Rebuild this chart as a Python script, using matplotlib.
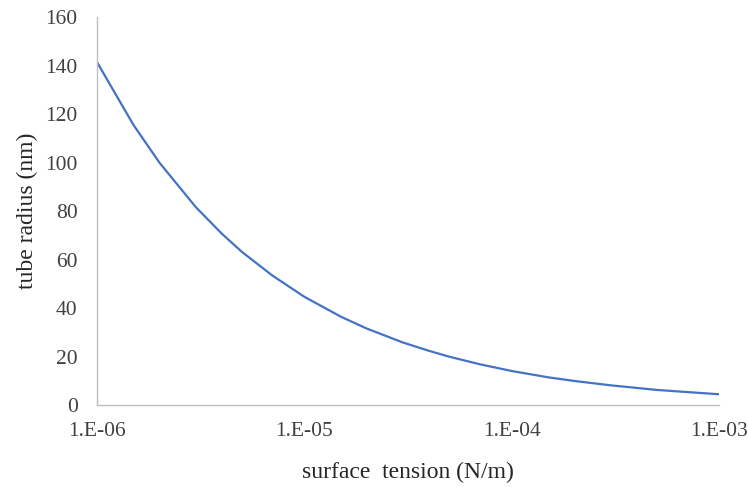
import matplotlib
matplotlib.use("Agg")
import matplotlib.pyplot as plt
from matplotlib.ticker import FixedLocator, FixedFormatter, NullLocator

plt.rcParams['font.family'] = ['Liberation Serif', 'DejaVu Serif']

# surface tension (N/m) and tube radius (nm)
tension = [1e-6, 1.5e-6, 2e-6, 3e-6, 4e-6, 5e-6, 7e-6, 1e-5, 1.5e-5, 2e-5,
           3e-5, 4e-5, 5e-5, 7e-5, 1e-4, 1.5e-4, 2e-4, 3e-4, 5e-4, 1e-3]
radius = [141.4, 115.5, 100.0, 81.6, 70.7, 63.2, 53.5, 44.7, 36.5, 31.6,
          25.8, 22.4, 20.0, 16.9, 14.1, 11.5, 10.0, 8.2, 6.3, 4.5]

xticks = [1e-6, 1e-5, 1e-4, 1e-3]
xlabels = ["1.E-06", "1.E-05", "1.E-04", "1.E-03"]
yticks = [0, 20, 40, 60, 80, 100, 120, 140, 160]

fig = plt.figure(figsize=(7.48, 4.87), dpi=100)
ax = fig.add_axes([0.1297, 0.168, 0.8313, 0.797])

ax.plot(tension, radius, color="#4472C4", linewidth=1.6)

ax.set_xscale("log")
ax.set_xlim(1e-6, 1e-3)
ax.set_ylim(0, 160)
ax.xaxis.set_major_locator(FixedLocator(xticks))
ax.xaxis.set_major_formatter(FixedFormatter(xlabels))
ax.xaxis.set_minor_locator(NullLocator())
ax.set_yticks(yticks)

ax.tick_params(axis="both", length=0, labelsize=15.5, colors="#404040")
ax.tick_params(axis="x", pad=12)
ax.tick_params(axis="y", pad=14)

for s in ["top", "right"]:
    ax.spines[s].set_visible(False)
for s in ["left", "bottom"]:
    ax.spines[s].set_color("#BFBFBF")
    ax.spines[s].set_linewidth(1.0)

ax.set_xlabel("surface  tension (N/m)", fontsize=17, color="#262626", labelpad=15)
ax.set_ylabel("tube radius (nm)", fontsize=17, color="#262626", labelpad=5)

fig.savefig("out.png", dpi=100)
